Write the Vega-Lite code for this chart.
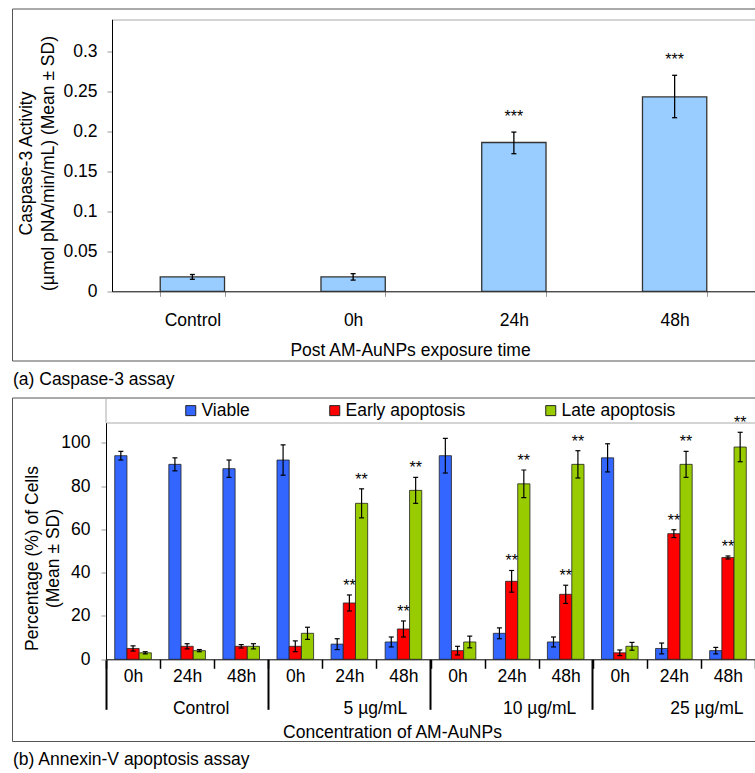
{
  "$schema": "https://vega.github.io/schema/vega-lite/v6.json",
  "padding": {"left": 11, "top": 7.5, "right": 0, "bottom": 0},
  "autosize": {"type": "pad"},
  "bounds": "flush",
  "spacing": 37,
  "config": {
    "font": "Liberation Sans",
    "view": {"stroke": "#555", "strokeWidth": 1},
    "axis": {"labelFontSize": 17.5, "titleFontSize": 17.5, "titleFontWeight": "normal", "labelColor": "#000", "titleColor": "#000", "labelOverlap": false, "labelFlush": false, "grid": false, "domainColor": "#000", "tickColor": "#999", "labelFont": "Liberation Sans", "titleFont": "Liberation Sans"},
    "legend": {"labelFontSize": 17.5, "labelColor": "#000", "labelFont": "Liberation Sans"},
    "title": {"fontSize": 17.5, "fontWeight": "normal", "color": "#000", "font": "Liberation Sans"},
    "text": {"font": "Liberation Sans"}
  },
  "vconcat": [
    {
      "width": 743,
      "height": 352,
      "title": {"text": "(a) Caspase-3 assay", "orient": "bottom", "anchor": "start", "frame": "group", "offset": 10, "dx": 1},
      "data": {"values": [
        {"time": "Control", "mean": 0.018, "lo": 0.015, "hi": 0.021, "sig": ""},
        {"time": "0h", "mean": 0.018, "lo": 0.014, "hi": 0.022, "sig": ""},
        {"time": "24h", "mean": 0.186, "lo": 0.172, "hi": 0.199, "sig": "***"},
        {"time": "48h", "mean": 0.243, "lo": 0.217, "hi": 0.270, "sig": "***"}
      ]},
      "encoding": {
        "x": {"field": "time", "type": "nominal", "sort": null,
          "scale": {"domain": ["Control", "0h", "24h", "48h"], "range": [100, 743], "paddingInner": 0.6, "paddingOuter": 0.3},
          "axis": {"orient": "bottom", "offset": -69.2, "title": "Post AM-AuNPs exposure time", "titleX": 398, "titleY": 64.2, "titleBaseline": "alphabetic", "titleAlign": "center", "labelAngle": 0, "labelBaseline": "alphabetic", "labelPadding": 28.7, "tickSize": 5, "tickBand": "extent", "tickColor": "#999", "domainColor": "#000", "domainWidth": 1}}
      },
      "layer": [
        {"mark": {"type": "bar", "fill": "#99CCFF", "stroke": "#333", "strokeWidth": 1.3},
         "encoding": {
           "y": {"field": "mean", "type": "quantitative",
             "scale": {"domain": [0, 0.34], "range": [282.8, 10.8], "nice": false, "zero": true},
             "axis": {"orient": "left", "offset": -100, "values": [0, 0.05, 0.1, 0.15, 0.2, 0.25, 0.3, 0.34], "format": "~g",
               "labelExpr": "datum.value > 0.32 ? '' : datum.label",
               "tickSize": 5, "tickColor": "#999",
               "tickOpacity": {"condition": {"test": "datum.value > 0.32", "value": 0}, "value": 1},
               "grid": true, "gridColor": "#aaa",
               "gridOpacity": {"condition": {"test": "datum.value > 0.32", "value": 1}, "value": 0},
               "labelPadding": 10, "domainColor": "#000",
               "title": ["Caspase-3 Activity", "(µmol pNA/min/mL) (Mean ± SD)"],
               "titleX": -85.7, "titleY": 154.5, "titleAngle": -90, "titleBaseline": "middle", "titleAlign": "center", "titleLineHeight": 22}}
         }},
        {"mark": {"type": "rule", "color": "#000", "strokeWidth": 1.3},
         "encoding": {"y": {"field": "lo", "type": "quantitative"}, "y2": {"field": "hi"}}},
        {"mark": {"type": "tick", "orient": "horizontal", "size": 5, "thickness": 1.3, "color": "#000", "opacity": 1},
         "encoding": {"y": {"field": "lo", "type": "quantitative"}}},
        {"mark": {"type": "tick", "orient": "horizontal", "size": 5, "thickness": 1.3, "color": "#000", "opacity": 1},
         "encoding": {"y": {"field": "hi", "type": "quantitative"}}},
        {"mark": {"type": "text", "fontSize": 16, "baseline": "alphabetic", "dy": -10, "color": "#000"},
         "encoding": {"y": {"field": "hi", "type": "quantitative"}, "text": {"field": "sig"}}}
      ]
    },
    {
      "width": 743,
      "height": 343.5,
      "title": {"text": "(b) Annexin-V apoptosis assay", "orient": "bottom", "anchor": "start", "frame": "group", "offset": 10, "dx": 1},
      "data": {"values": [
        {"slot": "Control|0h", "series": "Viable", "mean": 94, "lo": 92, "hi": 96, "sig": ""},
        {"slot": "Control|0h", "series": "Early apoptosis", "mean": 5, "lo": 3.8, "hi": 6.2, "sig": ""},
        {"slot": "Control|0h", "series": "Late apoptosis", "mean": 3, "lo": 2.5, "hi": 3.5, "sig": ""},
        {"slot": "Control|24h", "series": "Viable", "mean": 90, "lo": 87, "hi": 93, "sig": ""},
        {"slot": "Control|24h", "series": "Early apoptosis", "mean": 6, "lo": 4.8, "hi": 7.2, "sig": ""},
        {"slot": "Control|24h", "series": "Late apoptosis", "mean": 4, "lo": 3.5, "hi": 4.5, "sig": ""},
        {"slot": "Control|48h", "series": "Viable", "mean": 88, "lo": 84, "hi": 92, "sig": ""},
        {"slot": "Control|48h", "series": "Early apoptosis", "mean": 6, "lo": 5.2, "hi": 6.8, "sig": ""},
        {"slot": "Control|48h", "series": "Late apoptosis", "mean": 6, "lo": 4.8, "hi": 7.2, "sig": ""},
        {"slot": "5 µg/mL|0h", "series": "Viable", "mean": 92, "lo": 85, "hi": 99, "sig": ""},
        {"slot": "5 µg/mL|0h", "series": "Early apoptosis", "mean": 6, "lo": 3.5, "hi": 8.5, "sig": ""},
        {"slot": "5 µg/mL|0h", "series": "Late apoptosis", "mean": 12, "lo": 9.2, "hi": 14.8, "sig": ""},
        {"slot": "5 µg/mL|24h", "series": "Viable", "mean": 7, "lo": 4.5, "hi": 9.5, "sig": ""},
        {"slot": "5 µg/mL|24h", "series": "Early apoptosis", "mean": 26, "lo": 22.3, "hi": 29.7, "sig": "**"},
        {"slot": "5 µg/mL|24h", "series": "Late apoptosis", "mean": 72, "lo": 65.3, "hi": 78.7, "sig": "**"},
        {"slot": "5 µg/mL|48h", "series": "Viable", "mean": 8, "lo": 5.7, "hi": 10.3, "sig": ""},
        {"slot": "5 µg/mL|48h", "series": "Early apoptosis", "mean": 14, "lo": 10.3, "hi": 17.7, "sig": "**"},
        {"slot": "5 µg/mL|48h", "series": "Late apoptosis", "mean": 78, "lo": 72, "hi": 84, "sig": "**"},
        {"slot": "10 µg/mL|0h", "series": "Viable", "mean": 94, "lo": 86, "hi": 102, "sig": ""},
        {"slot": "10 µg/mL|0h", "series": "Early apoptosis", "mean": 4, "lo": 2, "hi": 6, "sig": ""},
        {"slot": "10 µg/mL|0h", "series": "Late apoptosis", "mean": 8, "lo": 5.3, "hi": 10.7, "sig": ""},
        {"slot": "10 µg/mL|24h", "series": "Viable", "mean": 12, "lo": 9.5, "hi": 14.5, "sig": ""},
        {"slot": "10 µg/mL|24h", "series": "Early apoptosis", "mean": 36, "lo": 31, "hi": 41, "sig": "**"},
        {"slot": "10 µg/mL|24h", "series": "Late apoptosis", "mean": 81, "lo": 74.6, "hi": 87.4, "sig": "**"},
        {"slot": "10 µg/mL|48h", "series": "Viable", "mean": 8, "lo": 5.7, "hi": 10.3, "sig": ""},
        {"slot": "10 µg/mL|48h", "series": "Early apoptosis", "mean": 30, "lo": 25.8, "hi": 34.2, "sig": "**"},
        {"slot": "10 µg/mL|48h", "series": "Late apoptosis", "mean": 90, "lo": 83.7, "hi": 96.3, "sig": "**"},
        {"slot": "25 µg/mL|0h", "series": "Viable", "mean": 93, "lo": 86.5, "hi": 99.5, "sig": ""},
        {"slot": "25 µg/mL|0h", "series": "Early apoptosis", "mean": 3, "lo": 1.7, "hi": 4.3, "sig": ""},
        {"slot": "25 µg/mL|0h", "series": "Late apoptosis", "mean": 6, "lo": 4.2, "hi": 7.8, "sig": ""},
        {"slot": "25 µg/mL|24h", "series": "Viable", "mean": 5, "lo": 2.5, "hi": 7.5, "sig": ""},
        {"slot": "25 µg/mL|24h", "series": "Early apoptosis", "mean": 58, "lo": 56.2, "hi": 59.8, "sig": "**"},
        {"slot": "25 µg/mL|24h", "series": "Late apoptosis", "mean": 90, "lo": 84, "hi": 96, "sig": "**"},
        {"slot": "25 µg/mL|48h", "series": "Viable", "mean": 4, "lo": 2.5, "hi": 5.5, "sig": ""},
        {"slot": "25 µg/mL|48h", "series": "Early apoptosis", "mean": 47, "lo": 46.3, "hi": 47.7, "sig": "**"},
        {"slot": "25 µg/mL|48h", "series": "Late apoptosis", "mean": 98, "lo": 91.2, "hi": 104.8, "sig": "**"}
      ]},
      "resolve": {"axis": {"x": "independent"}},
      "layer": [
        {"mark": {"type": "bar", "stroke": "#222", "strokeWidth": 0.8},
         "encoding": {
           "x": {"field": "slot", "type": "nominal", "sort": null,
             "scale": {"domain": ["Control|0h", "Control|24h", "Control|48h", "5 µg/mL|0h", "5 µg/mL|24h", "5 µg/mL|48h", "10 µg/mL|0h", "10 µg/mL|24h", "10 µg/mL|48h", "25 µg/mL|0h", "25 µg/mL|24h", "25 µg/mL|48h"], "range": [94, 743], "paddingInner": 0, "paddingOuter": 0},
             "axis": {"orient": "bottom", "offset": -81.7, "labelExpr": "split(datum.value, '|')[1]", "labelAngle": 0, "labelBaseline": "alphabetic", "labelPadding": 12.7, "tickSize": 9, "tickWidth": 1.5, "tickColor": "#000", "tickBand": "extent", "domainColor": "#000", "title": "Concentration of AM-AuNPs", "titleX": 380, "titleY": 78.2, "titleBaseline": "alphabetic", "titleAlign": "center"}},
           "xOffset": {"field": "series", "type": "nominal", "sort": null,
             "scale": {"domain": ["Viable", "Early apoptosis", "Late apoptosis"], "paddingInner": 0, "paddingOuter": 0.716}},
           "y": {"field": "mean", "type": "quantitative",
             "scale": {"domain": [0, 109.23], "range": [261.8, 25.2], "nice": false, "zero": true},
             "axis": {"orient": "left", "offset": -94, "values": [0, 20, 40, 60, 80, 100, 109.23], "format": "d",
               "labelExpr": "datum.value > 105 ? '' : datum.label",
               "tickSize": 5, "tickColor": "#999",
               "tickOpacity": {"condition": {"test": "datum.value > 105", "value": 0}, "value": 1},
               "grid": true, "gridColor": "#aaa",
               "gridOpacity": {"condition": {"test": "datum.value > 105", "value": 1}, "value": 0},
               "labelPadding": 11, "domainColor": "#000",
               "title": ["Percentage (%) of Cells", "(Mean ± SD)"],
               "titleX": -73.5, "titleY": 160.5, "titleAngle": -90, "titleBaseline": "middle", "titleAlign": "center", "titleLineHeight": 21}},
           "color": {"field": "series", "type": "nominal", "sort": null,
             "scale": {"domain": ["Viable", "Early apoptosis", "Late apoptosis"], "range": ["#3366FF", "#FF0000", "#99CC00"]},
             "legend": {"title": null, "orient": "none", "legendX": 170, "legendY": 393, "direction": "horizontal", "columnPadding": 76, "symbolType": "square", "symbolSize": 100, "symbolStrokeColor": "#222", "symbolStrokeWidth": 1, "labelFontSize": 17.5, "labelOffset": 2, "padding": 0}}
         }},
        {"mark": {"type": "rule", "color": "#000", "strokeWidth": 1.2},
         "encoding": {
           "x": {"field": "slot", "type": "nominal", "sort": null,
             "axis": {"orient": "bottom", "offset": -81.7, "values": ["Control|0h", "5 µg/mL|0h", "10 µg/mL|0h", "25 µg/mL|0h"], "bandPosition": 0, "labels": false, "domain": false, "tickSize": 50, "tickWidth": 2, "tickColor": "#000", "title": null}},
           "xOffset": {"field": "series", "type": "nominal", "sort": null},
           "y": {"field": "lo", "type": "quantitative"},
           "y2": {"field": "hi"}
         }},
        {"mark": {"type": "tick", "orient": "horizontal", "size": 5, "thickness": 1.2, "color": "#000", "opacity": 1},
         "encoding": {
           "x": {"field": "slot", "type": "nominal", "sort": null, "axis": null},
           "xOffset": {"field": "series", "type": "nominal", "sort": null},
           "y": {"field": "lo", "type": "quantitative"}
         }},
        {"mark": {"type": "tick", "orient": "horizontal", "size": 5, "thickness": 1.2, "color": "#000", "opacity": 1},
         "encoding": {
           "x": {"field": "slot", "type": "nominal", "sort": null, "axis": null},
           "xOffset": {"field": "series", "type": "nominal", "sort": null},
           "y": {"field": "hi", "type": "quantitative"}
         }},
        {"mark": {"type": "text", "fontSize": 16, "baseline": "alphabetic", "dy": -4, "color": "#000"},
         "encoding": {
           "x": {"field": "slot", "type": "nominal", "sort": null,
             "axis": {"orient": "bottom", "offset": -81.7, "values": ["Control|24h", "5 µg/mL|24h", "10 µg/mL|24h", "25 µg/mL|24h"], "ticks": false, "domain": false, "labelExpr": "split(datum.value, '|')[0]", "labelAngle": 0, "labelBaseline": "alphabetic", "labelPadding": 54.4, "labelOffset": {"expr": "indexof(datum.value, 'Control') == 0 ? 14 : indexof(datum.value, '5 ') == 0 ? 26 : indexof(datum.value, '10 ') == 0 ? 28 : 33"}, "title": null}},
           "xOffset": {"field": "series", "type": "nominal", "sort": null},
           "y": {"field": "hi", "type": "quantitative"},
           "text": {"field": "sig"}
         }},
        {"data": {"values": [{"k": 0}]},
         "mark": {"type": "rule", "color": "#aaa", "strokeWidth": 1},
         "encoding": {
           "x": {"datum": "Control|0h", "bandPosition": 0, "axis": null},
           "y": {"datum": 109.23},
           "y2": {"datum": 120.87}
         }}
      ]
    }
  ]
}
